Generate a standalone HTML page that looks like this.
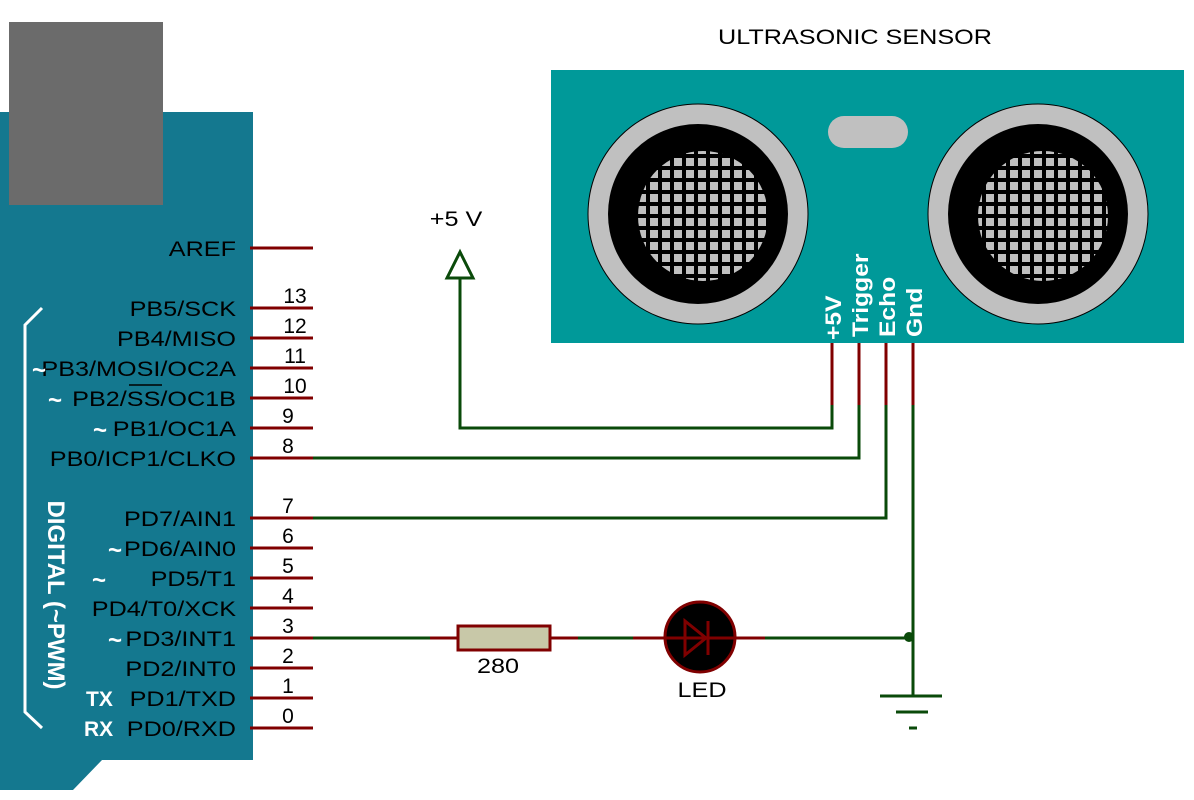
<!DOCTYPE html>
<html><head><style>body{margin:0;background:#fff}svg{display:block}</style></head><body>
<svg width="1194" height="800" xmlns="http://www.w3.org/2000/svg" font-family="Liberation Sans, sans-serif">
<defs>
<pattern id="mesh" x="0" y="0" width="12" height="12" patternUnits="userSpaceOnUse">
<rect width="12" height="12" fill="#000"/><rect x="2" y="2" width="8" height="8" fill="#c0c0c0"/></pattern>
</defs>
<!-- Arduino -->
<polygon points="0,112 253,112 253,760 102,760 73,790 0,790" fill="#14788f"/>
<rect x="9" y="22" width="154" height="183" fill="#6b6b6b"/>
<polyline points="42,308 25,325 25,712 42,728" fill="none" stroke="#fff" stroke-width="3"/>
<text transform="translate(48,595) rotate(90)" font-weight="bold" font-size="24" fill="#fff" text-anchor="middle">DIGITAL (~PWM)</text>
<g font-size="21" text-anchor="end" fill="#000">
<text transform="translate(236,256) scale(1.2,1)">AREF</text>
<text transform="translate(236,316) scale(1.2,1)">PB5/SCK</text>
<text transform="translate(236,346) scale(1.2,1)">PB4/MISO</text>
<text transform="translate(236,376) scale(1.2,1)">PB3/MOSI/OC2A</text>
<text transform="translate(236,406) scale(1.2,1)">PB2/SS/OC1B</text>
<text transform="translate(236,436) scale(1.2,1)">PB1/OC1A</text>
<text transform="translate(236,466) scale(1.2,1)">PB0/ICP1/CLKO</text>
<text transform="translate(236,526) scale(1.2,1)">PD7/AIN1</text>
<text transform="translate(236,556) scale(1.2,1)">PD6/AIN0</text>
<text transform="translate(236,586) scale(1.2,1)">PD5/T1</text>
<text transform="translate(236,616) scale(1.2,1)">PD4/T0/XCK</text>
<text transform="translate(236,646) scale(1.2,1)">PD3/INT1</text>
<text transform="translate(236,676) scale(1.2,1)">PD2/INT0</text>
<text transform="translate(236,706) scale(1.2,1)">PD1/TXD</text>
<text transform="translate(236,736) scale(1.2,1)">PD0/RXD</text>
</g>
<line x1="129" y1="385" x2="162" y2="385" stroke="#000" stroke-width="1.5"/>
<g fill="#fff" font-size="24" font-weight="bold">
<text x="32" y="378">~</text><text x="48" y="408">~</text><text x="93" y="438">~</text>
<text x="108" y="558">~</text><text x="92" y="588">~</text><text x="108" y="648">~</text>
</g>
<g fill="#fff" font-size="21" font-weight="bold">
<text x="86" y="706">TX</text><text x="84" y="736">RX</text>
</g>
<g stroke="#800000" stroke-width="3">
<line x1="250" y1="248" x2="313" y2="248"/>
<line x1="250" y1="308" x2="313" y2="308"/><line x1="250" y1="338" x2="313" y2="338"/>
<line x1="250" y1="368" x2="313" y2="368"/><line x1="250" y1="398" x2="313" y2="398"/>
<line x1="250" y1="428" x2="313" y2="428"/><line x1="250" y1="458" x2="313" y2="458"/>
<line x1="250" y1="518" x2="313" y2="518"/><line x1="250" y1="548" x2="313" y2="548"/>
<line x1="250" y1="578" x2="313" y2="578"/><line x1="250" y1="608" x2="313" y2="608"/>
<line x1="250" y1="638" x2="313" y2="638"/><line x1="250" y1="668" x2="313" y2="668"/>
<line x1="250" y1="698" x2="313" y2="698"/><line x1="250" y1="728" x2="313" y2="728"/>
</g>
<g font-size="21" text-anchor="middle" fill="#000">
<text x="295" y="303">13</text><text x="295" y="333">12</text><text x="295" y="363">11</text>
<text x="295" y="393">10</text><text x="288" y="423">9</text><text x="288" y="453">8</text>
<text x="288" y="513">7</text><text x="288" y="543">6</text><text x="288" y="573">5</text>
<text x="288" y="603">4</text><text x="288" y="633">3</text><text x="288" y="663">2</text>
<text x="288" y="693">1</text><text x="288" y="723">0</text>
</g>
<!-- Sensor -->
<text transform="translate(855,44) scale(1.2,1)" font-size="21" text-anchor="middle">ULTRASONIC SENSOR</text>
<rect x="551" y="70" width="633" height="273" fill="#009999"/>
<g stroke="#000" stroke-width="1">
<circle cx="698" cy="214" r="110" fill="#c0c0c0"/>
<circle cx="1038" cy="214" r="110" fill="#c0c0c0"/>
</g>
<circle cx="698" cy="214" r="90" fill="#000"/><circle cx="1038" cy="214" r="90" fill="#000"/>
<circle cx="703" cy="216" r="65" fill="url(#mesh)"/><circle cx="1043" cy="216" r="65" fill="url(#mesh)"/>
<rect x="828" y="116" width="80" height="32" rx="16" fill="#c0c0c0"/>
<g font-size="22" font-weight="bold" fill="#fff">
<text transform="translate(841,340) rotate(-90) scale(1.12,1)">+5V</text>
<text transform="translate(868,337) rotate(-90) scale(1.12,1)">Trigger</text>
<text transform="translate(895,337) rotate(-90) scale(1.12,1)">Echo</text>
<text transform="translate(922,337) rotate(-90) scale(1.12,1)">Gnd</text>
</g>
<g stroke="#800000" stroke-width="3">
<line x1="832" y1="343" x2="832" y2="405"/><line x1="859" y1="343" x2="859" y2="405"/>
<line x1="886" y1="343" x2="886" y2="405"/><line x1="913" y1="343" x2="913" y2="405"/>
</g>
<!-- wires -->
<g stroke="#0a4a0a" stroke-width="3" fill="none">
<polyline points="460,278 460,428 832,428 832,405"/>
<polyline points="313,458 859,458 859,405"/>
<polyline points="313,518 886,518 886,405"/>
<polyline points="913,405 913,696"/>
<line x1="313" y1="638" x2="430" y2="638"/>
<line x1="578" y1="638" x2="633" y2="638"/>
<line x1="765" y1="638" x2="913" y2="638"/>
<line x1="880" y1="696" x2="942" y2="696"/>
<line x1="896" y1="712" x2="928" y2="712"/>
<line x1="909" y1="728" x2="917" y2="728"/>
</g>
<circle cx="909" cy="637" r="5" fill="#0a4a0a"/>
<text transform="translate(456,226) scale(1.2,1)" font-size="21" text-anchor="middle">+5 V</text>
<polygon points="460,252 447,278 473,278" fill="#fff" stroke="#0a4a0a" stroke-width="3"/>
<!-- resistor -->
<g stroke="#800000" stroke-width="3">
<line x1="430" y1="638" x2="458" y2="638"/><line x1="550" y1="638" x2="578" y2="638"/>
<line x1="633" y1="638" x2="665" y2="638"/><line x1="735" y1="638" x2="765" y2="638"/>
</g>
<rect x="458" y="626" width="92" height="24" fill="#c8c8a8" stroke="#800000" stroke-width="3"/>
<text transform="translate(498,673) scale(1.2,1)" font-size="21" text-anchor="middle">280</text>
<!-- LED -->
<circle cx="700" cy="637" r="35" fill="#000" stroke="#800000" stroke-width="3"/>
<line x1="665" y1="638" x2="735" y2="638" stroke="#800000" stroke-width="3"/>
<polygon points="685,621 685,655 706,638" fill="none" stroke="#800000" stroke-width="3"/>
<line x1="708" y1="621" x2="708" y2="655" stroke="#800000" stroke-width="3"/>
<text transform="translate(702,697) scale(1.2,1)" font-size="21" text-anchor="middle">LED</text>
</svg>
</body></html>
